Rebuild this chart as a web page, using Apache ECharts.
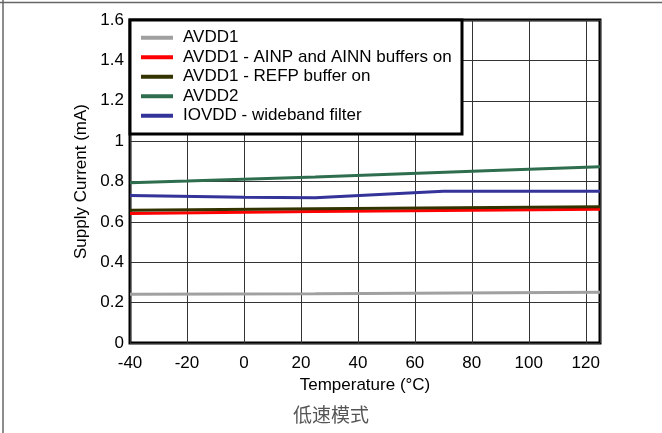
<!DOCTYPE html>
<html>
<head>
<meta charset="utf-8">
<script src="https://cdn.jsdelivr.net/npm/echarts@6/dist/echarts.min.js"></script>
<style>
html,body{margin:0;padding:0;background:#fff;}
#chart{width:662px;height:433px;}
</style>
</head>
<body>
<div id="chart"></div>
<script>
// ---- data ----
var seriesNames = ['AVDD1', 'AVDD1 - AINP and AINN buffers on', 'AVDD1 - REFP buffer on', 'AVDD2', 'IOVDD - wideband filter'];
var avdd1X = [-40, 25, 125];
var avdd1Y = [0.241, 0.244, 0.252];
var ainpX = [-40, 25, 125];
var ainpY = [0.642, 0.651, 0.662];
var refpX = [-40, 25, 125];
var refpY = [0.658, 0.665, 0.675];
var avdd2X = [-40, -20, 25, 85, 125];
var avdd2Y = [0.794, 0.802, 0.822, 0.853, 0.873];
var iovddX = [-40, 0, 25, 70, 125];
var iovddY = [0.731, 0.722, 0.719, 0.752, 0.752];
var colors = ['#a0a0a0', '#ff0000', '#333300', '#2e6e4e', '#333399'];
var xTitle = 'Temperature (°C)';
var yTitle = 'Supply Current (mA)';
var caption = '低速模式';

function pairs(xs, ys) { return xs.map(function (x, i) { return [x, ys[i]]; }); }
var allData = [pairs(avdd1X, avdd1Y), pairs(ainpX, ainpY), pairs(refpX, refpY), pairs(avdd2X, avdd2Y), pairs(iovddX, iovddY)];

var FONT = '"Liberation Sans", Arial, sans-serif';
var chart = echarts.init(document.getElementById('chart'), null, {renderer: 'canvas'});
var option = {
  animation: false,
  backgroundColor: '#fff',
  grid: {left: 130, right: 62, top: 20, bottom: 90, show: true, borderColor: '#000', borderWidth: 3, backgroundColor: 'transparent'},
  xAxis: {
    type: 'value', min: -40, max: 125, interval: 20,
    name: xTitle, nameLocation: 'middle', nameGap: 29,
    nameTextStyle: {fontFamily: FONT, fontSize: 17, color: '#000'},
    axisLine: {show: false},
    axisTick: {show: false},
    axisLabel: {fontFamily: FONT, fontSize: 17, color: '#000', margin: 12, showMaxLabel: false},
    splitLine: {show: true, lineStyle: {color: '#333', width: 1}}
  },
  yAxis: {
    type: 'value', min: 0, max: 1.6, interval: 0.2,
    name: yTitle, nameLocation: 'middle', nameGap: 33,
    nameTextStyle: {fontFamily: FONT, fontSize: 17, color: '#000'},
    axisLine: {show: false},
    axisTick: {show: false},
    axisLabel: {fontFamily: FONT, fontSize: 17, color: '#000', margin: 6},
    splitLine: {show: true, lineStyle: {color: '#333', width: 1}}
  },
  legend: {
    orient: 'vertical', left: 141, top: 28, padding: 0, itemGap: 0,
    itemWidth: 32, itemHeight: 4, icon: 'rect', z: 5,
    textStyle: {fontFamily: FONT, fontSize: 17, color: '#000', lineHeight: 19.5, padding: [0, 0, 0, 5]},
    data: seriesNames
  },
  title: {
    text: caption, left: 'center', top: 400,
    textStyle: {fontFamily: '"Noto Sans CJK SC", sans-serif', fontSize: 19, fontWeight: 'normal', color: '#555'}
  },
  graphic: [
    {type: 'rect', z: 3, shape: {x: 130, y: 20, width: 332, height: 114}, style: {fill: '#fff', stroke: '#000', lineWidth: 3}},
    {type: 'line', z: 3, shape: {x1: 0, y1: 2.5, x2: 662, y2: 2.5}, style: {stroke: '#666', lineWidth: 1.5}},
    {type: 'line', z: 3, shape: {x1: 3, y1: 0, x2: 3, y2: 433}, style: {stroke: '#666', lineWidth: 1.5}}
  ],
  series: seriesNames.map(function (n, i) {
    return {
      name: n, type: 'line', data: allData[i], showSymbol: false, symbol: 'none',
      color: colors[i], lineStyle: {width: 3, color: colors[i]}, z: 2
    };
  })
};
chart.setOption(option);
</script>
</body>
</html>
